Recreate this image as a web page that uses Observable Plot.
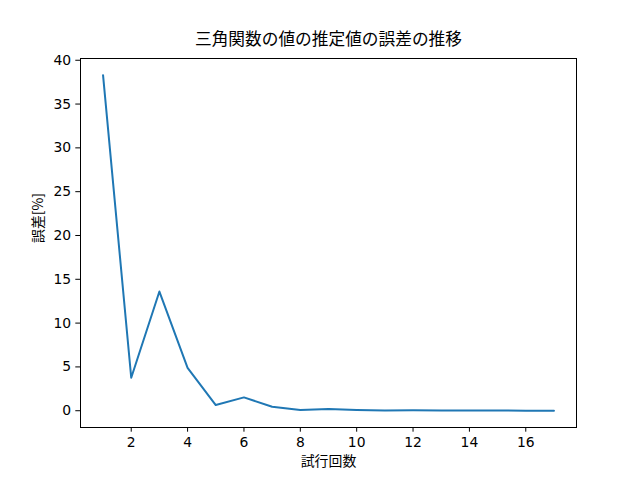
<!DOCTYPE html>
<html>
<head>
<meta charset="utf-8">
<script src="https://cdn.jsdelivr.net/npm/d3@7"></script>
<script src="https://cdn.jsdelivr.net/npm/@observablehq/plot@0.6"></script>
<style>
html,body{margin:0;padding:0;background:#fff;}
</style>
</head>
<body>
<div id="chart"></div>
<script>
const trials = [1,2,3,4,5,6,7,8,9,10,11,12,13,14,15,16,17];
const errors = [38.3,3.76,13.6,4.9,0.65,1.52,0.45,0.07,0.2,0.08,0.02,0.05,0.03,0.02,0.02,0.01,0.01];
const xTicks = [2,4,6,8,10,12,14,16];
const yTicks = [0,5,10,15,20,25,30,35,40];
const title = "三角関数の値の推定値の誤差の推移";
const xLabel = "試行回数";
const yLabel = "誤差[%]";

const data = trials.map((t,i)=>({t, e: errors[i]}));
const cjk = "'Noto Sans CJK JP', sans-serif";
const latin = "'DejaVu Sans', sans-serif";

const plot = Plot.plot({
  width: 640,
  height: 480,
  marginLeft: 80,
  marginRight: 64,
  marginTop: 58,
  marginBottom: 53,
  style: {fontFamily: latin, fontSize: "13.9px", color: "#000", background: "#fff"},
  x: {domain: [0.2, 17.8]},
  y: {domain: [-1.915, 40.2]},
  marks: [
    Plot.frame({stroke: "#000", strokeWidth: 1}),
    Plot.axisX({ticks: xTicks, tickSize: 4.7, tickPadding: 4.7, label: null, fontSize: 13.9, fontFamily: latin, stroke: "#000"}),
    Plot.axisY({ticks: yTicks, tickSize: 4.7, tickPadding: 4.7, label: null, fontSize: 13.9, fontFamily: latin, stroke: "#000"}),
    Plot.line(data, {x: "t", y: "e", stroke: "#1f77b4", strokeWidth: 2}),
    Plot.text([title], {text: d=>d, frameAnchor: "top", dy: -14, fontSize: 16.7, fontFamily: cjk, fill: "#000", lineAnchor: "bottom"}),
    Plot.text([xLabel], {text: d=>d, frameAnchor: "bottom", dy: 34, fontSize: 13.9, fontFamily: cjk, fill: "#000", lineAnchor: "middle"}),
    Plot.text([yLabel], {text: d=>d, frameAnchor: "left", dx: -42, rotate: -90, fontSize: 13.9, fontFamily: cjk, fill: "#000"})
  ]
});
document.getElementById("chart").appendChild(plot);
</script>
</body>
</html>
